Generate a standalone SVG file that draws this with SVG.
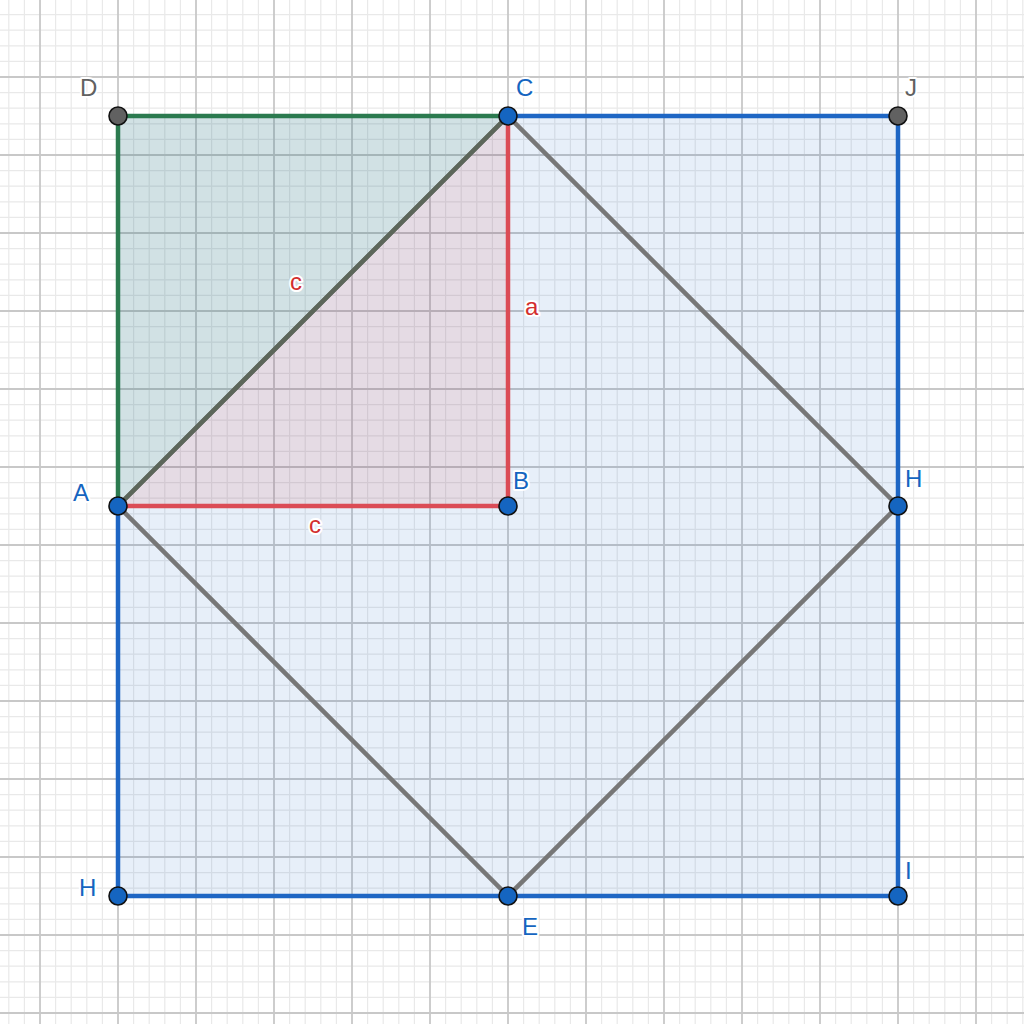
<svg xmlns="http://www.w3.org/2000/svg" width="1024" height="1024" viewBox="0 0 1024 1024">
<style>
.lbl{font-family:"Liberation Sans","Open Sans",sans-serif;font-size:24px;paint-order:stroke;stroke:#fff;stroke-width:4px;stroke-linejoin:round}
.bl{fill:#1565c0}
.rd{fill:#d32f2f}
.gy{fill:#616161}
.seg{stroke-width:4.5;stroke-linecap:round;fill:none}
.ptb{fill:#1565c0;stroke:#111;stroke-width:1.6}
.ptg{fill:#616161;stroke:#111;stroke-width:1.6}
.minor{stroke:#e9e9e9;stroke-width:1.2;fill:none}
.major{stroke:#c8c8c8;stroke-width:1.8;fill:none}
</style>
<rect width="1024" height="1024" fill="#fff"/>
<g id="grid">
<path class="minor" d="M8.8 0V1024M24.4 0V1024M55.6 0V1024M71.2 0V1024M86.8 0V1024M102.4 0V1024M133.6 0V1024M149.2 0V1024M164.8 0V1024M180.4 0V1024M211.6 0V1024M227.2 0V1024M242.8 0V1024M258.4 0V1024M289.6 0V1024M305.2 0V1024M320.8 0V1024M336.4 0V1024M367.6 0V1024M383.2 0V1024M398.8 0V1024M414.4 0V1024M445.6 0V1024M461.2 0V1024M476.8 0V1024M492.4 0V1024M523.6 0V1024M539.2 0V1024M554.8 0V1024M570.4 0V1024M601.6 0V1024M617.2 0V1024M632.8 0V1024M648.4 0V1024M679.6 0V1024M695.2 0V1024M710.8 0V1024M726.4 0V1024M757.6 0V1024M773.2 0V1024M788.8 0V1024M804.4 0V1024M835.6 0V1024M851.2 0V1024M866.8 0V1024M882.4 0V1024M913.6 0V1024M929.2 0V1024M944.8 0V1024M960.4 0V1024M991.6 0V1024M1007.2 0V1024M1022.8 0V1024"/>
<path class="minor" d="M0 14.6H1024M0 30.2H1024M0 45.8H1024M0 61.4H1024M0 92.6H1024M0 108.2H1024M0 123.8H1024M0 139.4H1024M0 170.6H1024M0 186.2H1024M0 201.8H1024M0 217.4H1024M0 248.6H1024M0 264.2H1024M0 279.8H1024M0 295.4H1024M0 326.6H1024M0 342.2H1024M0 357.8H1024M0 373.4H1024M0 404.6H1024M0 420.2H1024M0 435.8H1024M0 451.4H1024M0 482.6H1024M0 498.2H1024M0 513.8H1024M0 529.4H1024M0 560.6H1024M0 576.2H1024M0 591.8H1024M0 607.4H1024M0 638.6H1024M0 654.2H1024M0 669.8H1024M0 685.4H1024M0 716.6H1024M0 732.2H1024M0 747.8H1024M0 763.4H1024M0 794.6H1024M0 810.2H1024M0 825.8H1024M0 841.4H1024M0 872.6H1024M0 888.2H1024M0 903.8H1024M0 919.4H1024M0 950.6H1024M0 966.2H1024M0 981.8H1024M0 997.4H1024"/>
<path class="major" d="M40 0V1024M118 0V1024M196 0V1024M274 0V1024M352 0V1024M430 0V1024M508 0V1024M586 0V1024M664 0V1024M742 0V1024M820 0V1024M898 0V1024M976 0V1024M0 77H1024M0 155H1024M0 233H1024M0 311H1024M0 389H1024M0 467H1024M0 545H1024M0 623H1024M0 701H1024M0 779H1024M0 857H1024M0 935H1024M0 1013H1024"/>
</g>
<g id="fills">
<polygon points="118,116 898,116 898,896 118,896" fill="#1565c0" fill-opacity="0.1"/>
<polygon points="118,116 508,116 118,506" fill="#2e7d50" fill-opacity="0.12"/>
<polygon points="118,506 508,506 508,116" fill="#d32f2f" fill-opacity="0.1"/>
</g>
<g id="connectors">
<polyline class="seg" points="508,116 898,116 898,896 118,896 118,506" stroke="#1e66c4"/>
<polyline class="seg" points="508,116 118,116 118,506" stroke="#2b7a4f"/>
<polyline class="seg" points="118,506 508,506 508,116" stroke="#db4b55"/>
<polygon class="seg" points="508,116 898,506 508,896 118,506" stroke="#777"/>
<line class="seg" x1="118" y1="506" x2="508" y2="116" stroke="#5c665a"/>
</g>
<g id="edge-labels">
<text class="lbl rd" x="290" y="290">c</text>
<text class="lbl rd" x="525" y="315">a</text>
<text class="lbl rd" x="309" y="533">c</text>
</g>
<g id="node-D"><circle class="ptg" cx="118" cy="116" r="9"/><text class="lbl gy" x="80" y="96">D</text></g>
<g id="node-C"><circle class="ptb" cx="508" cy="116" r="9"/><text class="lbl bl" x="516" y="96">C</text></g>
<g id="node-J"><circle class="ptg" cx="898" cy="116" r="9"/><text class="lbl gy" x="905" y="96">J</text></g>
<g id="node-A"><circle class="ptb" cx="118" cy="506" r="9"/><text class="lbl bl" x="73" y="501">A</text></g>
<g id="node-B"><circle class="ptb" cx="508" cy="506" r="9"/><text class="lbl bl" x="513" y="489">B</text></g>
<g id="node-H1"><circle class="ptb" cx="898" cy="506" r="9"/><text class="lbl bl" x="905" y="487">H</text></g>
<g id="node-H2"><circle class="ptb" cx="118" cy="896" r="9"/><text class="lbl bl" x="79" y="896">H</text></g>
<g id="node-E"><circle class="ptb" cx="508" cy="896" r="9"/><text class="lbl bl" x="522" y="935">E</text></g>
<g id="node-I"><circle class="ptb" cx="898" cy="896" r="9"/><text class="lbl bl" x="905" y="879">I</text></g>
</svg>
